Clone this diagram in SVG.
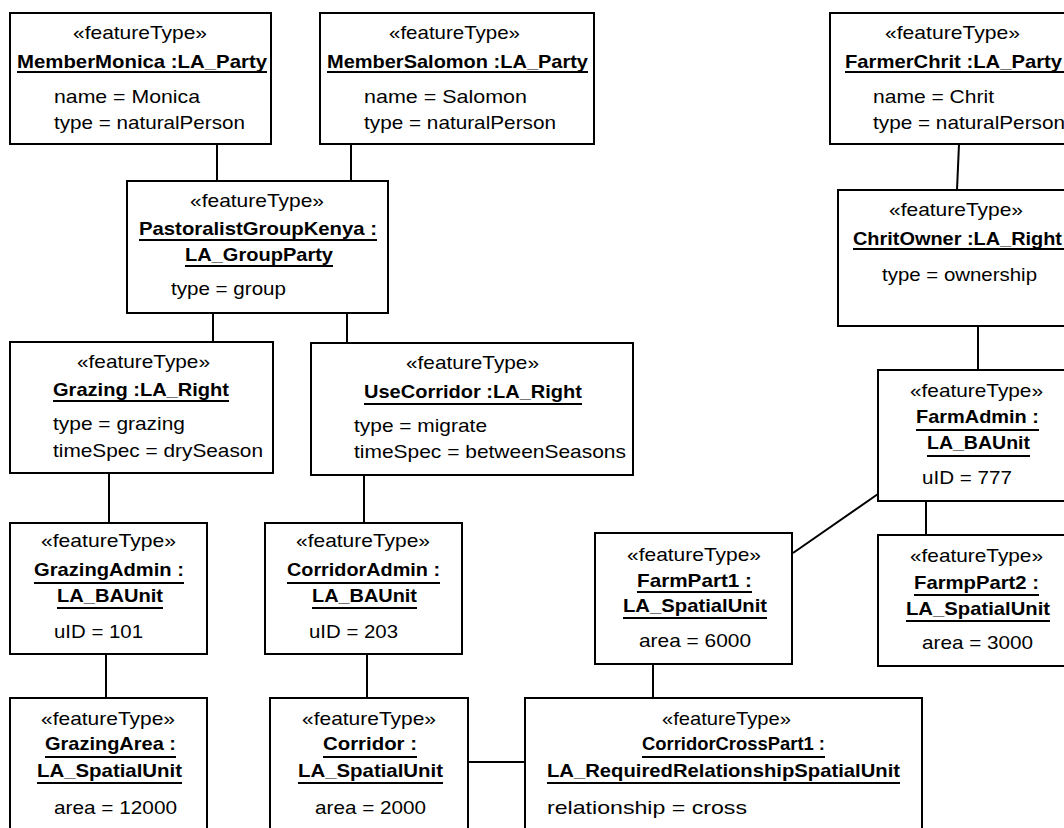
<svg xmlns="http://www.w3.org/2000/svg" width="1064" height="828" viewBox="0 0 1064 828">
  <style>
    .box { fill: #fff; stroke: #000; stroke-width: 2; }
    .conn line { stroke: #000; stroke-width: 2; }
    .ul { stroke: #000; stroke-width: 2; }
    text { font-family: "Liberation Sans", Arial, sans-serif; font-size: 19px; fill: #000; }
    .nm { font-weight: bold; }
  </style>
  <rect width="1064" height="828" fill="#fff"/>

  <!-- associations between instances -->
  <g id="connectors" class="conn">
    <line x1="217" y1="144" x2="217" y2="181"/>
    <line x1="351" y1="144" x2="351" y2="181"/>
    <line x1="959" y1="144" x2="957" y2="190"/>
    <line x1="213" y1="313" x2="213" y2="342"/>
    <line x1="347" y1="313" x2="347" y2="343"/>
    <line x1="978" y1="326" x2="978" y2="370"/>
    <line x1="109" y1="473" x2="109" y2="523"/>
    <line x1="364" y1="475" x2="364" y2="523"/>
    <line x1="878" y1="494" x2="793" y2="553"/>
    <line x1="926" y1="501" x2="926" y2="535"/>
    <line x1="106" y1="654" x2="106" y2="698"/>
    <line x1="367" y1="654" x2="367" y2="698"/>
    <line x1="653" y1="664" x2="653" y2="698"/>
    <line x1="468" y1="762" x2="525" y2="762"/>
  </g>

  <g id="memberMonica">
    <rect class="box" x="10" y="13" width="261" height="131"/>
    <text x="73" y="39" textLength="134" lengthAdjust="spacingAndGlyphs">«featureType»</text>
    <text class="nm" x="17" y="68" textLength="250" lengthAdjust="spacingAndGlyphs">MemberMonica :LA_Party</text>
    <line class="ul" x1="17" y1="72" x2="267" y2="72"/>
    <text x="54" y="103" textLength="146" lengthAdjust="spacingAndGlyphs">name = Monica</text>
    <text x="54" y="129" textLength="191" lengthAdjust="spacingAndGlyphs">type = naturalPerson</text>
  </g>

  <g id="memberSalomon">
    <rect class="box" x="320" y="13" width="274" height="131"/>
    <text x="389" y="39" textLength="131" lengthAdjust="spacingAndGlyphs">«featureType»</text>
    <text class="nm" x="327" y="68" textLength="261" lengthAdjust="spacingAndGlyphs">MemberSalomon :LA_Party</text>
    <line class="ul" x1="327" y1="72" x2="588" y2="72"/>
    <text x="364" y="103" textLength="163" lengthAdjust="spacingAndGlyphs">name = Salomon</text>
    <text x="364" y="129" textLength="192" lengthAdjust="spacingAndGlyphs">type = naturalPerson</text>
  </g>

  <g id="farmerChrit">
    <rect class="box" x="830" y="13" width="260" height="131"/>
    <text x="885" y="39" textLength="135" lengthAdjust="spacingAndGlyphs">«featureType»</text>
    <text class="nm" x="845" y="68" textLength="217" lengthAdjust="spacingAndGlyphs">FarmerChrit :LA_Party</text>
    <line class="ul" x1="845" y1="72" x2="1064" y2="72"/>
    <text x="873" y="103" textLength="121" lengthAdjust="spacingAndGlyphs">name = Chrit</text>
    <text x="873" y="129" textLength="192" lengthAdjust="spacingAndGlyphs">type = naturalPerson</text>
  </g>

  <g id="pastoralistGroupKenya">
    <rect class="box" x="127" y="181" width="261" height="132"/>
    <text x="190" y="207" textLength="134" lengthAdjust="spacingAndGlyphs">«featureType»</text>
    <text class="nm" x="139" y="235" textLength="238" lengthAdjust="spacingAndGlyphs">PastoralistGroupKenya :</text>
    <line class="ul" x1="139" y1="240" x2="377" y2="240"/>
    <text class="nm" x="185" y="261" textLength="148" lengthAdjust="spacingAndGlyphs">LA_GroupParty</text>
    <line class="ul" x1="185" y1="266" x2="333" y2="266"/>
    <text x="171" y="295" textLength="115" lengthAdjust="spacingAndGlyphs">type = group</text>
  </g>

  <g id="chritOwner">
    <rect class="box" x="838" y="190" width="250" height="136"/>
    <text x="889" y="216" textLength="134" lengthAdjust="spacingAndGlyphs">«featureType»</text>
    <text class="nm" x="853" y="245" textLength="209" lengthAdjust="spacingAndGlyphs">ChritOwner :LA_Right</text>
    <line class="ul" x1="853" y1="249" x2="1064" y2="249"/>
    <text x="882" y="281" textLength="155" lengthAdjust="spacingAndGlyphs">type = ownership</text>
  </g>

  <g id="grazing">
    <rect class="box" x="10" y="342" width="263" height="131"/>
    <text x="77" y="368" textLength="133" lengthAdjust="spacingAndGlyphs">«featureType»</text>
    <text class="nm" x="53" y="396" textLength="176" lengthAdjust="spacingAndGlyphs">Grazing :LA_Right</text>
    <line class="ul" x1="53" y1="401" x2="229" y2="401"/>
    <text x="53" y="430" textLength="132" lengthAdjust="spacingAndGlyphs">type = grazing</text>
    <text x="53" y="457" textLength="210" lengthAdjust="spacingAndGlyphs">timeSpec = drySeason</text>
  </g>

  <g id="useCorridor">
    <rect class="box" x="311" y="343" width="322" height="132"/>
    <text x="406" y="369" textLength="133" lengthAdjust="spacingAndGlyphs">«featureType»</text>
    <text class="nm" x="364" y="398" textLength="218" lengthAdjust="spacingAndGlyphs">UseCorridor :LA_Right</text>
    <line class="ul" x1="364" y1="404" x2="582" y2="404"/>
    <text x="354" y="432" textLength="133" lengthAdjust="spacingAndGlyphs">type = migrate</text>
    <text x="354" y="458" textLength="272" lengthAdjust="spacingAndGlyphs">timeSpec = betweenSeasons</text>
  </g>

  <g id="farmAdmin">
    <rect class="box" x="878" y="370" width="210" height="131"/>
    <text x="910" y="397" textLength="133" lengthAdjust="spacingAndGlyphs">«featureType»</text>
    <text class="nm" x="916" y="423" textLength="123" lengthAdjust="spacingAndGlyphs">FarmAdmin :</text>
    <line class="ul" x1="916" y1="430" x2="1039" y2="430"/>
    <text class="nm" x="927" y="449" textLength="103" lengthAdjust="spacingAndGlyphs">LA_BAUnit</text>
    <line class="ul" x1="927" y1="456" x2="1030" y2="456"/>
    <text x="922" y="484" textLength="90" lengthAdjust="spacingAndGlyphs">uID = 777</text>
  </g>

  <g id="grazingAdmin">
    <rect class="box" x="10" y="523" width="197" height="131"/>
    <text x="41" y="547" textLength="135" lengthAdjust="spacingAndGlyphs">«featureType»</text>
    <text class="nm" x="34" y="576" textLength="150" lengthAdjust="spacingAndGlyphs">GrazingAdmin :</text>
    <line class="ul" x1="34" y1="583" x2="184" y2="583"/>
    <text class="nm" x="57" y="602" textLength="106" lengthAdjust="spacingAndGlyphs">LA_BAUnit</text>
    <line class="ul" x1="57" y1="608" x2="163" y2="608"/>
    <text x="54" y="638" textLength="89" lengthAdjust="spacingAndGlyphs">uID = 101</text>
  </g>

  <g id="corridorAdmin">
    <rect class="box" x="265" y="523" width="197" height="131"/>
    <text x="296" y="547" textLength="134" lengthAdjust="spacingAndGlyphs">«featureType»</text>
    <text class="nm" x="287" y="576" textLength="153" lengthAdjust="spacingAndGlyphs">CorridorAdmin :</text>
    <line class="ul" x1="287" y1="583" x2="440" y2="583"/>
    <text class="nm" x="312" y="602" textLength="105" lengthAdjust="spacingAndGlyphs">LA_BAUnit</text>
    <line class="ul" x1="312" y1="608" x2="417" y2="608"/>
    <text x="309" y="638" textLength="89" lengthAdjust="spacingAndGlyphs">uID = 203</text>
  </g>

  <g id="farmPart1">
    <rect class="box" x="595" y="533" width="197" height="131"/>
    <text x="627" y="561" textLength="134" lengthAdjust="spacingAndGlyphs">«featureType»</text>
    <text class="nm" x="637" y="587" textLength="115" lengthAdjust="spacingAndGlyphs">FarmPart1 :</text>
    <line class="ul" x1="637" y1="592" x2="752" y2="592"/>
    <text class="nm" x="623" y="612" textLength="144" lengthAdjust="spacingAndGlyphs">LA_SpatialUnit</text>
    <line class="ul" x1="623" y1="618" x2="767" y2="618"/>
    <text x="639" y="647" textLength="112" lengthAdjust="spacingAndGlyphs">area = 6000</text>
  </g>

  <g id="farmpPart2">
    <rect class="box" x="878" y="535" width="210" height="131"/>
    <text x="910" y="562" textLength="133" lengthAdjust="spacingAndGlyphs">«featureType»</text>
    <text class="nm" x="914" y="589" textLength="125" lengthAdjust="spacingAndGlyphs">FarmpPart2 :</text>
    <line class="ul" x1="914" y1="595" x2="1039" y2="595"/>
    <text class="nm" x="906" y="615" textLength="144" lengthAdjust="spacingAndGlyphs">LA_SpatialUnit</text>
    <line class="ul" x1="906" y1="621" x2="1050" y2="621"/>
    <text x="922" y="649" textLength="111" lengthAdjust="spacingAndGlyphs">area = 3000</text>
  </g>

  <g id="grazingArea">
    <rect class="box" x="10" y="698" width="197" height="150"/>
    <text x="41" y="725" textLength="134" lengthAdjust="spacingAndGlyphs">«featureType»</text>
    <text class="nm" x="45" y="750" textLength="131" lengthAdjust="spacingAndGlyphs">GrazingArea :</text>
    <line class="ul" x1="45" y1="757" x2="176" y2="757"/>
    <text class="nm" x="37" y="777" textLength="145" lengthAdjust="spacingAndGlyphs">LA_SpatialUnit</text>
    <line class="ul" x1="37" y1="783" x2="182" y2="783"/>
    <text x="54" y="814" textLength="123" lengthAdjust="spacingAndGlyphs">area = 12000</text>
  </g>

  <g id="corridor">
    <rect class="box" x="270" y="698" width="198" height="150"/>
    <text x="302" y="725" textLength="134" lengthAdjust="spacingAndGlyphs">«featureType»</text>
    <text class="nm" x="323" y="750" textLength="94" lengthAdjust="spacingAndGlyphs">Corridor :</text>
    <line class="ul" x1="323" y1="757" x2="417" y2="757"/>
    <text class="nm" x="298" y="777" textLength="145" lengthAdjust="spacingAndGlyphs">LA_SpatialUnit</text>
    <line class="ul" x1="298" y1="783" x2="443" y2="783"/>
    <text x="315" y="814" textLength="111" lengthAdjust="spacingAndGlyphs">area = 2000</text>
  </g>

  <g id="corridorCrossPart1">
    <rect class="box" x="525" y="698" width="397" height="150"/>
    <text x="662" y="725" textLength="129" lengthAdjust="spacingAndGlyphs">«featureType»</text>
    <text class="nm" x="642" y="750" textLength="183" lengthAdjust="spacingAndGlyphs">CorridorCrossPart1 :</text>
    <line class="ul" x1="642" y1="757" x2="825" y2="757"/>
    <text class="nm" x="547" y="777" textLength="353" lengthAdjust="spacingAndGlyphs">LA_RequiredRelationshipSpatialUnit</text>
    <line class="ul" x1="547" y1="783" x2="900" y2="783"/>
    <text x="547" y="814" textLength="200" lengthAdjust="spacingAndGlyphs">relationship = cross</text>
  </g>
</svg>
